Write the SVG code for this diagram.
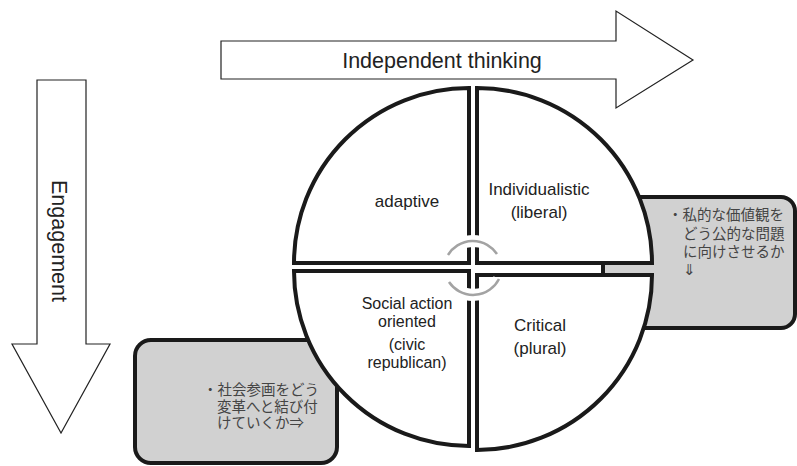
<svg xmlns="http://www.w3.org/2000/svg" width="797" height="466" viewBox="0 0 797 466">
<style>
.arrow{fill:#fff;stroke:#222;stroke-width:1.2;stroke-linejoin:miter}
.box{fill:#d1d1d1;stroke:#1a1a1a;stroke-width:4}
.quad{fill:#fff;stroke:#1a1a1a;stroke-width:4;stroke-linejoin:miter}
.lbl{font-family:"Liberation Sans",Arial,sans-serif;font-size:17px;fill:#222;text-anchor:middle}
.sm{font-size:16px}
.big{font-family:"Liberation Sans",Arial,sans-serif;font-size:21.5px;fill:#222;text-anchor:middle}
.jp{font-family:"Liberation Serif","Noto Sans CJK JP",serif;font-size:14.5px;fill:#444}
.halo{fill:none;stroke:#fff;stroke-width:12}
.arc{fill:none;stroke:#a3a3a3;stroke-width:2.5}
</style>
<rect width="797" height="466" fill="#fff"/>
<g id="arrow-independent">
<polygon class="arrow" points="221,41 616,41 616,11 693,60 616,108 616,79 221,79"/>
<text class="big" x="442" y="68">Independent thinking</text>
</g>
<g id="arrow-engagement">
<polygon class="arrow" points="37,80 86,80 86,344 110,344 61,433 12,344 37,344"/>
<text class="big" font-size="21" transform="translate(52,241) rotate(90)" x="0" y="0">Engagement</text>
</g>
<g id="box-private">
<rect class="box" x="603" y="197" width="192" height="131" rx="14"/>
</g>
<g id="box-social">
<rect class="box" x="135" y="340" width="202" height="123" rx="16"/>
</g>
<g id="quad-adaptive">
<path class="quad" d="M469,263 L294,263 A175,175 0 0 1 469,88 Z"/>
<text class="lbl" x="407" y="207">adaptive</text>
</g>
<g id="quad-individualistic">
<path class="quad" d="M477,263 L477,88 A175,175 0 0 1 652,263 Z"/>
<text class="lbl" x="539" y="195">Individualistic</text>
<text class="lbl" x="539" y="218">(liberal)</text>
</g>
<g id="quad-social">
<path class="quad" d="M469,271 L469,446 A175,175 0 0 1 294,271 Z"/>
<text class="lbl sm" x="407" y="309">Social action</text>
<text class="lbl sm" x="407" y="327">oriented</text>
<text class="lbl sm" x="407" y="350">(civic</text>
<text class="lbl sm" x="407" y="368">republican)</text>
</g>
<g id="quad-critical">
<path class="quad" d="M477,275 L652,275 A175,175 0 0 1 477,450 Z"/>
<text class="lbl" x="540" y="331">Critical</text>
<text class="lbl" x="540" y="354">(plural)</text>
</g>
<g id="connectors">
<path class="halo" d="M448,255 A29,29 0 0 1 497,254"/>
<path class="halo" d="M499,279 A29,29 0 0 1 449,282"/>
<path class="arc" d="M448,255 A29,29 0 0 1 497,254"/>
<path class="arc" d="M499,279 A29,29 0 0 1 449,282"/>
</g>
<g id="text-private">
<text class="jp" x="668" y="220">・私的な価値観を</text>
<text class="jp" x="683" y="239">どう公的な問題</text>
<text class="jp" x="683" y="257">に向けさせるか</text>
<text class="jp" x="683" y="275">⇓</text>
</g>
<g id="text-social">
<text class="jp" x="203" y="395">・社会参画をどう</text>
<text class="jp" x="217" y="412">変革へと結び付</text>
<text class="jp" x="217" y="428">けていくか⇒</text>
</g>
</svg>
